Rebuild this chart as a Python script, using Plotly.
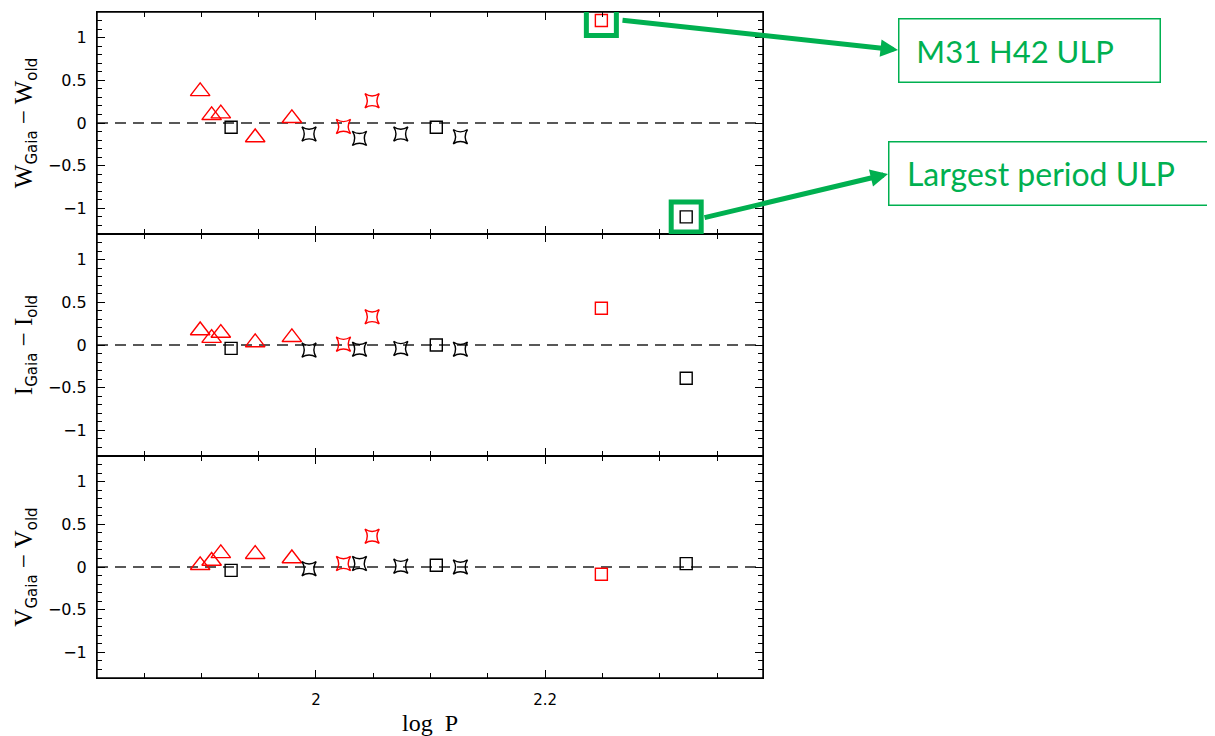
import plotly.graph_objects as go
from plotly.subplots import make_subplots

# ---- data ----
log_p = [1.899, 1.909, 1.917, 1.926, 1.947, 1.979, 1.994, 2.024, 2.038, 2.049,
         2.074, 2.105, 2.126, 2.249, 2.323]
marker_kind = ["tri", "tri", "tri", "sq", "tri", "tri", "star", "star", "star", "star",
               "star", "sq", "star", "sq", "sq"]
marker_col = ["red", "red", "red", "black", "red", "red", "black", "red", "black", "red",
              "black", "black", "black", "red", "black"]
dW = [0.37, 0.09, 0.11, -0.05, -0.17, 0.055, -0.13, -0.04, -0.18, 0.26,
      -0.13, -0.05, -0.16, 1.20, -1.10]
dI = [0.17, 0.08, 0.14, -0.04, 0.03, 0.09, -0.06, 0.01, -0.05, 0.33,
      -0.04, 0.0, -0.05, 0.43, -0.39]
dV = [0.02, 0.07, 0.16, -0.04, 0.15, 0.10, -0.02, 0.04, 0.04, 0.36,
      0.01, 0.02, 0.0, -0.085, 0.04]
x_major_step, x_minor_step = 0.2, 0.05
y_major_step, y_minor_step = 0.5, 0.1
highlight_idx = [13, 14]
labels = ["M31 H42 ULP", "Largest period ULP"]

symbols = {"tri": "triangle-up-open", "sq": "square-open", "star": "star-square-open"}
sizes = {"tri": 17, "sq": 12, "star": 13}
colors = {"red": "#ff0000", "black": "#000000"}
GREEN = "#00b050"

fig = make_subplots(rows=3, cols=1, shared_xaxes=True, vertical_spacing=0)

panels = [dW, dI, dV]
for r, vals in enumerate(panels, start=1):
    for kind in ["tri", "sq", "star"]:
        for col in ["red", "black"]:
            xs = [log_p[i] for i in range(len(log_p)) if marker_kind[i] == kind and marker_col[i] == col]
            ys = [vals[i] for i in range(len(log_p)) if marker_kind[i] == kind and marker_col[i] == col]
            if not xs:
                continue
            fig.add_trace(go.Scatter(
                x=xs, y=ys, mode="markers", showlegend=False, hoverinfo="skip",
                marker=dict(symbol=symbols[kind], size=sizes[kind], color=colors[col],
                            line=dict(width=1.4, color=colors[col]))),
                row=r, col=1)
    sfx = "" if r == 1 else str(r)
    fig.add_shape(type="line", xref=f"x{sfx} domain", yref=f"y{sfx}",
                  x0=0, x1=1, y0=0, y1=0, layer="below",
                  line=dict(color="#222222", width=1.4, dash="11px,7px"))
    # panel frame
    fig.add_shape(type="rect", xref=f"x{sfx} domain", yref=f"y{sfx} domain",
                  x0=0, x1=1, y0=0, y1=1, layer="above",
                  line=dict(color="black", width=1.5))

def ytitle(letter):
    sub = "<span style='font-family:DejaVu Sans;font-size:15px'>%s</span>"
    return (letter + "<sub>" + (sub % "Gaia") + "</sub> \u2212 " + letter +
            "<sub>" + (sub % "old") + "</sub>")

axis_common = dict(showline=True, linecolor="black", linewidth=1, mirror="ticks",
                   automargin=False, ticks="inside", tickcolor="black", tickwidth=1.3,
                   showgrid=False, zeroline=False)

for r, letter in zip([1, 2, 3], ["W", "I", "V"]):
    fig.update_yaxes(range=[-1.3, 1.3], tickmode="linear", tick0=0, dtick=y_major_step,
                     ticklen=8,
                     minor=dict(tickmode="linear", tick0=0, dtick=y_minor_step, ticks="inside",
                                ticklen=5, tickcolor="black", tickwidth=1.3, showgrid=False),
                     tickfont=dict(family="DejaVu Sans", size=16, color="black"),
                     ticklabelstandoff=6,
                     title=dict(text=ytitle(letter), standoff=8,
                                font=dict(family="Liberation Serif", size=25, color="black")),
                     row=r, col=1, **axis_common)
    fig.update_xaxes(range=[1.809, 2.390], tickmode="linear", tick0=0, dtick=x_major_step,
                     ticklen=8,
                     minor=dict(tickmode="linear", tick0=0, dtick=x_minor_step, ticks="inside",
                                ticklen=5, tickcolor="black", tickwidth=1.3, showgrid=False),
                     tickfont=dict(family="DejaVu Sans", size=15, color="black"),
                     ticklabelstandoff=8,
                     showticklabels=(r == 3),
                     row=r, col=1, **axis_common)

fig.update_xaxes(title=dict(text="log  P", standoff=10,
                            font=dict(family="Liberation Serif", size=24, color="black")),
                 row=3, col=1)

# highlight boxes around the two ULPs in the top panel
for i in highlight_idx:
    fig.add_shape(type="rect", xref="x", yref="y", xsizemode="pixel", ysizemode="pixel",
                  xanchor=log_p[i], yanchor=dW[i], x0=-15, x1=15, y0=-15, y1=15,
                  line=dict(color=GREEN, width=5))

# label boxes
pad = "&nbsp;&nbsp;"
fig.add_annotation(xref="paper", yref="paper", x=1.2027, y=0.9429, xanchor="left",
                   yanchor="middle", text=pad + labels[0], showarrow=False, width=258, height=60,
                   align="left", bordercolor=GREEN, borderwidth=1.5, borderpad=1,
                   font=dict(family="Lato", size=31, color=GREEN))
fig.add_annotation(xref="paper", yref="paper", x=1.1877, y=0.7575, xanchor="left",
                   yanchor="middle", text=pad + labels[1], showarrow=False, width=330, height=60,
                   align="left", bordercolor=GREEN, borderwidth=1.5, borderpad=1,
                   font=dict(family="Lato", size=32, color=GREEN))

# arrows
fig.add_annotation(xref="paper", yref="paper", x=1.2027, y=0.9429, ax=-277, ay=-30,
                   text="", showarrow=True, arrowhead=2, arrowsize=0.7, arrowwidth=5,
                   arrowcolor=GREEN, standoff=0)
fig.add_annotation(xref="paper", yref="paper", x=1.1877, y=0.7568, ax=-185, ay=44,
                   text="", showarrow=True, arrowhead=2, arrowsize=0.7, arrowwidth=5,
                   arrowcolor=GREEN, standoff=0)

# page body has an 8px margin, so the figure is offset by 8px
fig.update_layout(width=1207, height=728, margin=dict(l=89, r=452, t=4, b=58),
                  paper_bgcolor="white", plot_bgcolor="white")

fig.write_html("out.html")
